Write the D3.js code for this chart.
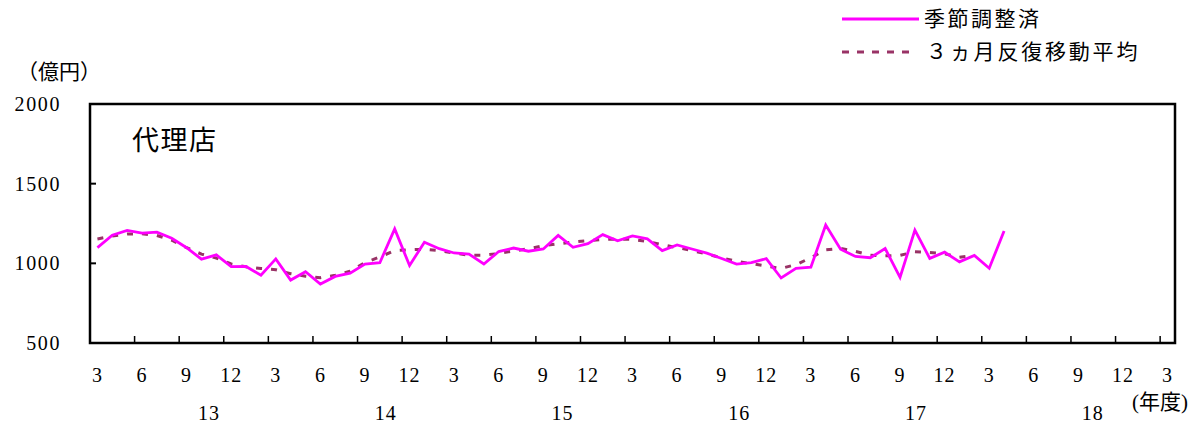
<!DOCTYPE html>
<html><head><meta charset="utf-8">
<script src="https://cdn.jsdelivr.net/npm/d3@7"></script>
<style>
body{margin:0;background:#fff;}
text{font-family:"Liberation Serif","DejaVu Serif","Noto Sans CJK JP",serif;fill:#000;}
.jp{font-family:"Noto Sans CJK JP","Liberation Serif",serif;}
</style></head>
<body>
<svg id="chart" width="1201" height="430"></svg>
<script>
// ---- data ----
const monthLabels = [3,6,9,12,3,6,9,12,3,6,9,12,3,6,9,12,3,6,9,12,3,6,9,12,3];
const yearLabels = ["13","14","15","16","17","18"];
const yTicks = [500,1000,1500,2000];
const seasonallyAdjusted = [1099,1176,1207,1190,1196,1157,1098,1026,1053,979,
  980,925,1028,895,947,870,918,938,995,1004,
  1216,986,1133,1092,1065,1058,996,1074,1096,1076,
  1090,1175,1101,1124,1180,1141,1172,1154,1080,1116,
  1090,1064,1030,995,1004,1029,908,969,976,1240,
  1089,1043,1035,1093,912,1208,1031,1070,1009,1050,
  969,1203];
const movingAverage = [1153,1171,1184,1186,1175,1145,1098,1058,1033,996,
  978,968,960,935,919,910,925,950,1005,1040,
  1080,1085,1088,1080,1065,1051,1051,1062,1078,1091,
  1110,1123,1133,1143,1150,1152,1150,1137,1116,1099,
  1080,1058,1035,1012,998,983,968,992,1035,1085,
  1094,1075,1051,1047,1050,1073,1068,1060,1038,1050];
const nMonths = 73; // Mar 2013 .. Mar 2019

const svg = d3.select("#chart");
const L = 90, R = 1175, T = 104, B = 343;
const x = d3.scaleBand().domain(d3.range(nMonths)).range([L, R]).paddingInner(0).paddingOuter(0);
const bw = x.bandwidth();
const cx = i => x(i) + bw/2;
const y = d3.scaleLinear().domain([500,2000]).range([B, T]);

// y labels
svg.append("g").selectAll("text").data(yTicks).join("text")
  .attr("x", 61).attr("y", d => y(d)).attr("dy", "0.35em")
  .attr("text-anchor","end").style("font-size","20px").style("letter-spacing","1.6px").text(d => d);
// y inner ticks
svg.append("g").selectAll("line").data(yTicks).join("line")
  .attr("x1", L).attr("x2", L+6).attr("y1", d => y(d)).attr("y2", d => y(d))
  .attr("stroke","#000").attr("stroke-width",2);

// x ticks (up from bottom axis)
const tickIdx = d3.range(3, nMonths, 3);
svg.append("g").selectAll("line").data(tickIdx).join("line")
  .attr("x1", d => x(d)).attr("x2", d => x(d)).attr("y1", B).attr("y2", B-7)
  .attr("stroke","#000").attr("stroke-width",1.5);

// month labels
svg.append("g").selectAll("text").data(monthLabels).join("text")
  .attr("x", (d,i) => cx(i*3)).attr("y", 375).attr("dy","0.35em")
  .attr("text-anchor","middle").style("font-size","20px").style("letter-spacing","1px").text(d => d);

// year labels
svg.append("g").selectAll("text").data(yearLabels).join("text")
  .attr("x", (d,i) => x(8 + i*12) - i*1.6).attr("y", 413).attr("dy","0.35em")
  .attr("text-anchor","middle").style("font-size","20px").style("letter-spacing","1px").text(d => d);
svg.append("text").attr("x", 1160).attr("y", 402).attr("dy","0.35em")
  .attr("text-anchor","middle").style("font-size","21px").text("(年度)");

// unit label
svg.append("text").attr("class","jp").attr("x", 17).attr("y", 72).attr("dy","0.35em")
  .style("font-size","21px").text("（億円）");
// panel title
svg.append("text").attr("class","jp").attr("x", 132).attr("y", 141).attr("dy","0.35em")
  .style("font-size","27px").style("letter-spacing","1.5px").text("代理店");

// lines
const line = d3.line().x((d,i) => cx(i)).y(d => y(d));
svg.append("path").datum(movingAverage).attr("d", line)
  .attr("fill","none").attr("stroke","#993366").attr("stroke-width",3)
  .attr("stroke-dasharray","6,9");
svg.append("path").datum(seasonallyAdjusted).attr("d", line)
  .attr("fill","none").attr("stroke","#FF00FF").attr("stroke-width",2.8)
  .attr("stroke-linejoin","miter");

// frame
svg.append("rect").attr("x", L).attr("y", T).attr("width", R-L).attr("height", B-T)
  .attr("fill","none").attr("stroke","#000").attr("stroke-width",2.5);

// legend
const lg = svg.append("g");
lg.append("line").attr("x1",842).attr("x2",919).attr("y1",19).attr("y2",19)
  .attr("stroke","#FF00FF").attr("stroke-width",2.8);
lg.append("text").attr("class","jp").attr("x",924).attr("y",19).attr("dy","0.35em")
  .style("font-size","21px").style("letter-spacing","2.5px").text("季節調整済");
lg.append("line").attr("x1",842).attr("x2",912).attr("y1",52).attr("y2",52)
  .attr("stroke","#993366").attr("stroke-width",3).attr("stroke-dasharray","7,8");
lg.append("text").attr("class","jp").attr("x",926).attr("y",52).attr("dy","0.35em")
  .style("font-size","21px").style("letter-spacing","2.8px").text("３ヵ月反復移動平均");
</script>
</body></html>
